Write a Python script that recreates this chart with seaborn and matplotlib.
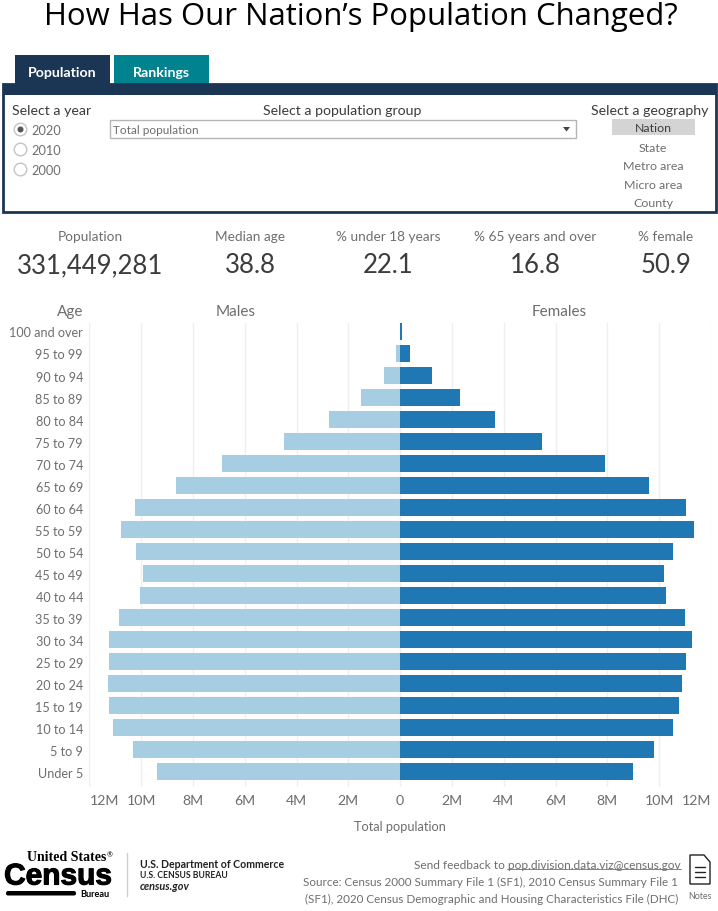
import matplotlib
matplotlib.use('Agg')
import matplotlib.pyplot as plt
import matplotlib.patheffects as pe
from matplotlib.patches import Rectangle, Circle, FancyBboxPatch, Polygon
import pandas as pd
import seaborn as sns

# Werte (Mio. Personen)
age_groups = ['100 and over', '95 to 99', '90 to 94', '85 to 89', '80 to 84', '75 to 79',
              '70 to 74', '65 to 69', '60 to 64', '55 to 59', '50 to 54', '45 to 49',
              '40 to 44', '35 to 39', '30 to 34', '25 to 29', '20 to 24', '15 to 19',
              '10 to 14', '5 to 9', 'Under 5']
males = [0.02, 0.15, 0.62, 1.50, 2.74, 4.48, 6.87, 8.65, 10.23, 10.77, 10.19, 9.92,
         10.04, 10.85, 11.24, 11.24, 11.27, 11.24, 11.08, 10.31, 9.38]
females = [0.07, 0.39, 1.24, 2.32, 3.67, 5.48, 7.92, 9.61, 11.04, 11.35, 10.54, 10.19,
           10.27, 11.00, 11.27, 11.04, 10.89, 10.77, 10.54, 9.81, 9.00]
ticks = [-12, -10, -8, -6, -4, -2, 0, 2, 4, 6, 8, 10, 12]
tick_labels = ['12M', '10M', '8M', '6M', '4M', '2M', '0', '2M', '4M', '6M', '8M', '10M', '12M']
kpi_names = ['Population', 'Median age', '% under 18 years', '% 65 years and over', '% female']
kpi_values = ['331,449,281', '38.8', '22.1', '16.8', '50.9']
kpi_x = [90, 250, 388, 535, 666]

W, H = 718, 912
FONT = 'Lato'
NAVY = '#1b3654'
TEAL = '#00838f'
GREY = '#6e6e6e'
DARK = '#3c3c3c'

sns.set_theme(style='white')
plt.rcParams['font.family'] = [FONT, 'DejaVu Sans']

fig = plt.figure(figsize=(W / 100, H / 100), dpi=100, facecolor='white')

# Overlay in Pixelkoordinaten fuer Kopf und Fuss
bg = fig.add_axes([0, 0, 1, 1])
bg.set_xlim(0, W)
bg.set_ylim(H, 0)
bg.axis('off')

# Pyramide
ax = fig.add_axes([89.3 / W, 1 - 788 / H, (711 - 89.3) / W, (788 - 324) / H])
ax.patch.set_alpha(0)
df = pd.DataFrame({'age': age_groups, 'male': [-m for m in males], 'female': females})
sns.barplot(data=df, y='age', x='male', color='#a6cde2', width=0.77, saturation=1, linewidth=0, ax=ax, zorder=3)
sns.barplot(data=df, y='age', x='female', color='#1f77b4', width=0.77, saturation=1, linewidth=0, ax=ax, zorder=3)
ax.set_xlim(-12, 12)
ax.set_ylim(20.70, -0.386)
ax.set_xticks(ticks)
ax.set_xticklabels(tick_labels)
ax.set_xlabel('Total population', fontsize=9.2, color=GREY, labelpad=10)
ax.set_ylabel('')
ax.tick_params(axis='x', length=0, labelsize=10.2, labelcolor=GREY, pad=5)
ax.tick_params(axis='y', length=0, labelsize=9.1, labelcolor=GREY, pad=4.5)
labs = ax.get_xticklabels()
labs[0].set_ha('left')
labs[-1].set_ha('right')
ax.grid(axis='x', color='#efefef', lw=1, zorder=0)
ax.set_axisbelow(True)
sns.despine(ax=ax, top=True, right=True, left=True, bottom=True)

bg.text(83, 312, 'Age', ha='right', va='center', fontsize=11, color=GREY)
bg.text(236, 312, 'Males', ha='center', va='center', fontsize=11, color=GREY)
bg.text(559, 312, 'Females', ha='center', va='center', fontsize=11, color=GREY)

# Titel
bg.text(361, 16.5, 'How Has Our Nation\u2019s Population Changed?', ha='center', va='center',
        fontsize=22.4, color='black', family='Open Sans')

# Reiter
bg.add_patch(Rectangle((15, 55.5), 95, 30, color=NAVY, lw=0))
bg.add_patch(Rectangle((114, 55.5), 95, 30, color=TEAL, lw=0))
bg.text(62.5, 73, 'Population', ha='center', va='center', fontsize=10.2, color='white', weight='bold')
bg.text(161.5, 73, 'Rankings', ha='center', va='center', fontsize=10.2, color='white', weight='bold')

# Filterkasten
bg.add_patch(Rectangle((3, 84.5), 713, 11, color=NAVY, lw=0))
bg.add_patch(Rectangle((3, 85), 713, 128, fill=False, edgecolor=NAVY, lw=2))

bg.text(12, 111, 'Select a year', ha='left', va='center', fontsize=10.2, color=DARK)
for i, year in enumerate(['2020', '2010', '2000']):
    y = 130.5 + i * 20
    bg.add_patch(Circle((20.5, y), 6.3, facecolor='white', edgecolor='#c4c4c4', lw=1))
    bg.text(31, y + 0.5, year, ha='left', va='center', fontsize=9.2, color=GREY)
bg.add_patch(Circle((20.5, 130.5), 3, color='#555555', lw=0))

bg.text(342, 111, 'Select a population group', ha='center', va='center', fontsize=10.2, color=DARK)
bg.add_patch(Rectangle((109.5, 120.5), 466.5, 18.5, facecolor='white', edgecolor='#b5b5b5', lw=1))
bg.text(113, 130.5, 'Total population', ha='left', va='center', fontsize=8.5, color=GREY)
bg.add_patch(Polygon([[563, 128], [570, 128], [566.5, 132.5]], color='#444444', lw=0))

bg.text(649.5, 111, 'Select a geography', ha='center', va='center', fontsize=10.2, color=DARK)
bg.add_patch(Rectangle((612, 119.5), 83, 16, color='#d4d4d4', lw=0))
for name, y in zip(['Nation', 'State', 'Metro area', 'Micro area', 'County'],
                   [129, 148, 166.5, 185.5, 203.5]):
    bg.text(653, y, name, ha='center', va='center', fontsize=8.9, color=GREY if y > 130 else DARK)

# Kennzahlen
for name, value, x in zip(kpi_names, kpi_values, kpi_x):
    bg.text(x, 237, name, ha='center', va='center', fontsize=9.8, color=GREY)
    bg.text(x, 265.5, value, ha='center', va='center', fontsize=18.5, color=DARK)

# Logo
bg.text(106, 857.5, 'United States', ha='right', va='center', fontsize=10, weight='bold', color='black',
        family='Liberation Serif')
bg.text(107, 855, '\u00ae', ha='left', va='center', fontsize=5, color='black')
bg.text(58, 877.5, 'Census', ha='center', va='center', fontsize=21.5, weight='bold', color='black',
        family='Liberation Sans', path_effects=[pe.withStroke(linewidth=0.8, foreground='black')])
bg.add_patch(FancyBboxPatch((6, 892), 70, 4.5, boxstyle='round,pad=0,rounding_size=2', color='black', lw=0))
bg.text(109, 895, 'Bureau', ha='right', va='center', fontsize=6.6, weight='bold', color='black')
bg.plot([126.5, 126.5], [854, 897], color='#cfcfcf', lw=1)
bg.text(140, 864.5, 'U.S. Department of Commerce', ha='left', va='center', fontsize=7.6, weight='bold', color='#222222')
bg.text(140, 876, 'U.S. CENSUS BUREAU', ha='left', va='center', fontsize=6.2, weight='bold', color='#222222')
bg.text(140, 887, 'census.gov', ha='left', va='center', fontsize=7.8, weight='bold', style='italic', color='#222222')

# Fusszeile
bg.text(681, 865.5, 'Send feedback to pop.division.data.viz@census.gov', ha='right', va='center', fontsize=8.6, color=GREY)
bg.plot([507, 681], [870, 870], color=GREY, lw=0.6)
bg.text(678, 882.5, 'Source: Census 2000 Summary File 1 (SF1), 2010 Census Summary File 1', ha='right', va='center',
        fontsize=8.4, color=GREY)
bg.text(678, 899.5, '(SF1), 2020 Census Demographic and Housing Characteristics File (DHC)', ha='right', va='center',
        fontsize=8.4, color=GREY)

# Notes-Symbol
bg.add_patch(Polygon([[690, 856], [704, 856], [710, 863], [710, 885], [690, 885]], facecolor='white', edgecolor='#222222', lw=1))
for y in [868, 873, 878]:
    bg.plot([695, 705], [y, y], color='#222222', lw=1)
bg.text(700, 897, 'Notes', ha='center', va='center', fontsize=6.4, color=GREY)

fig.savefig('out.png', dpi=100)
